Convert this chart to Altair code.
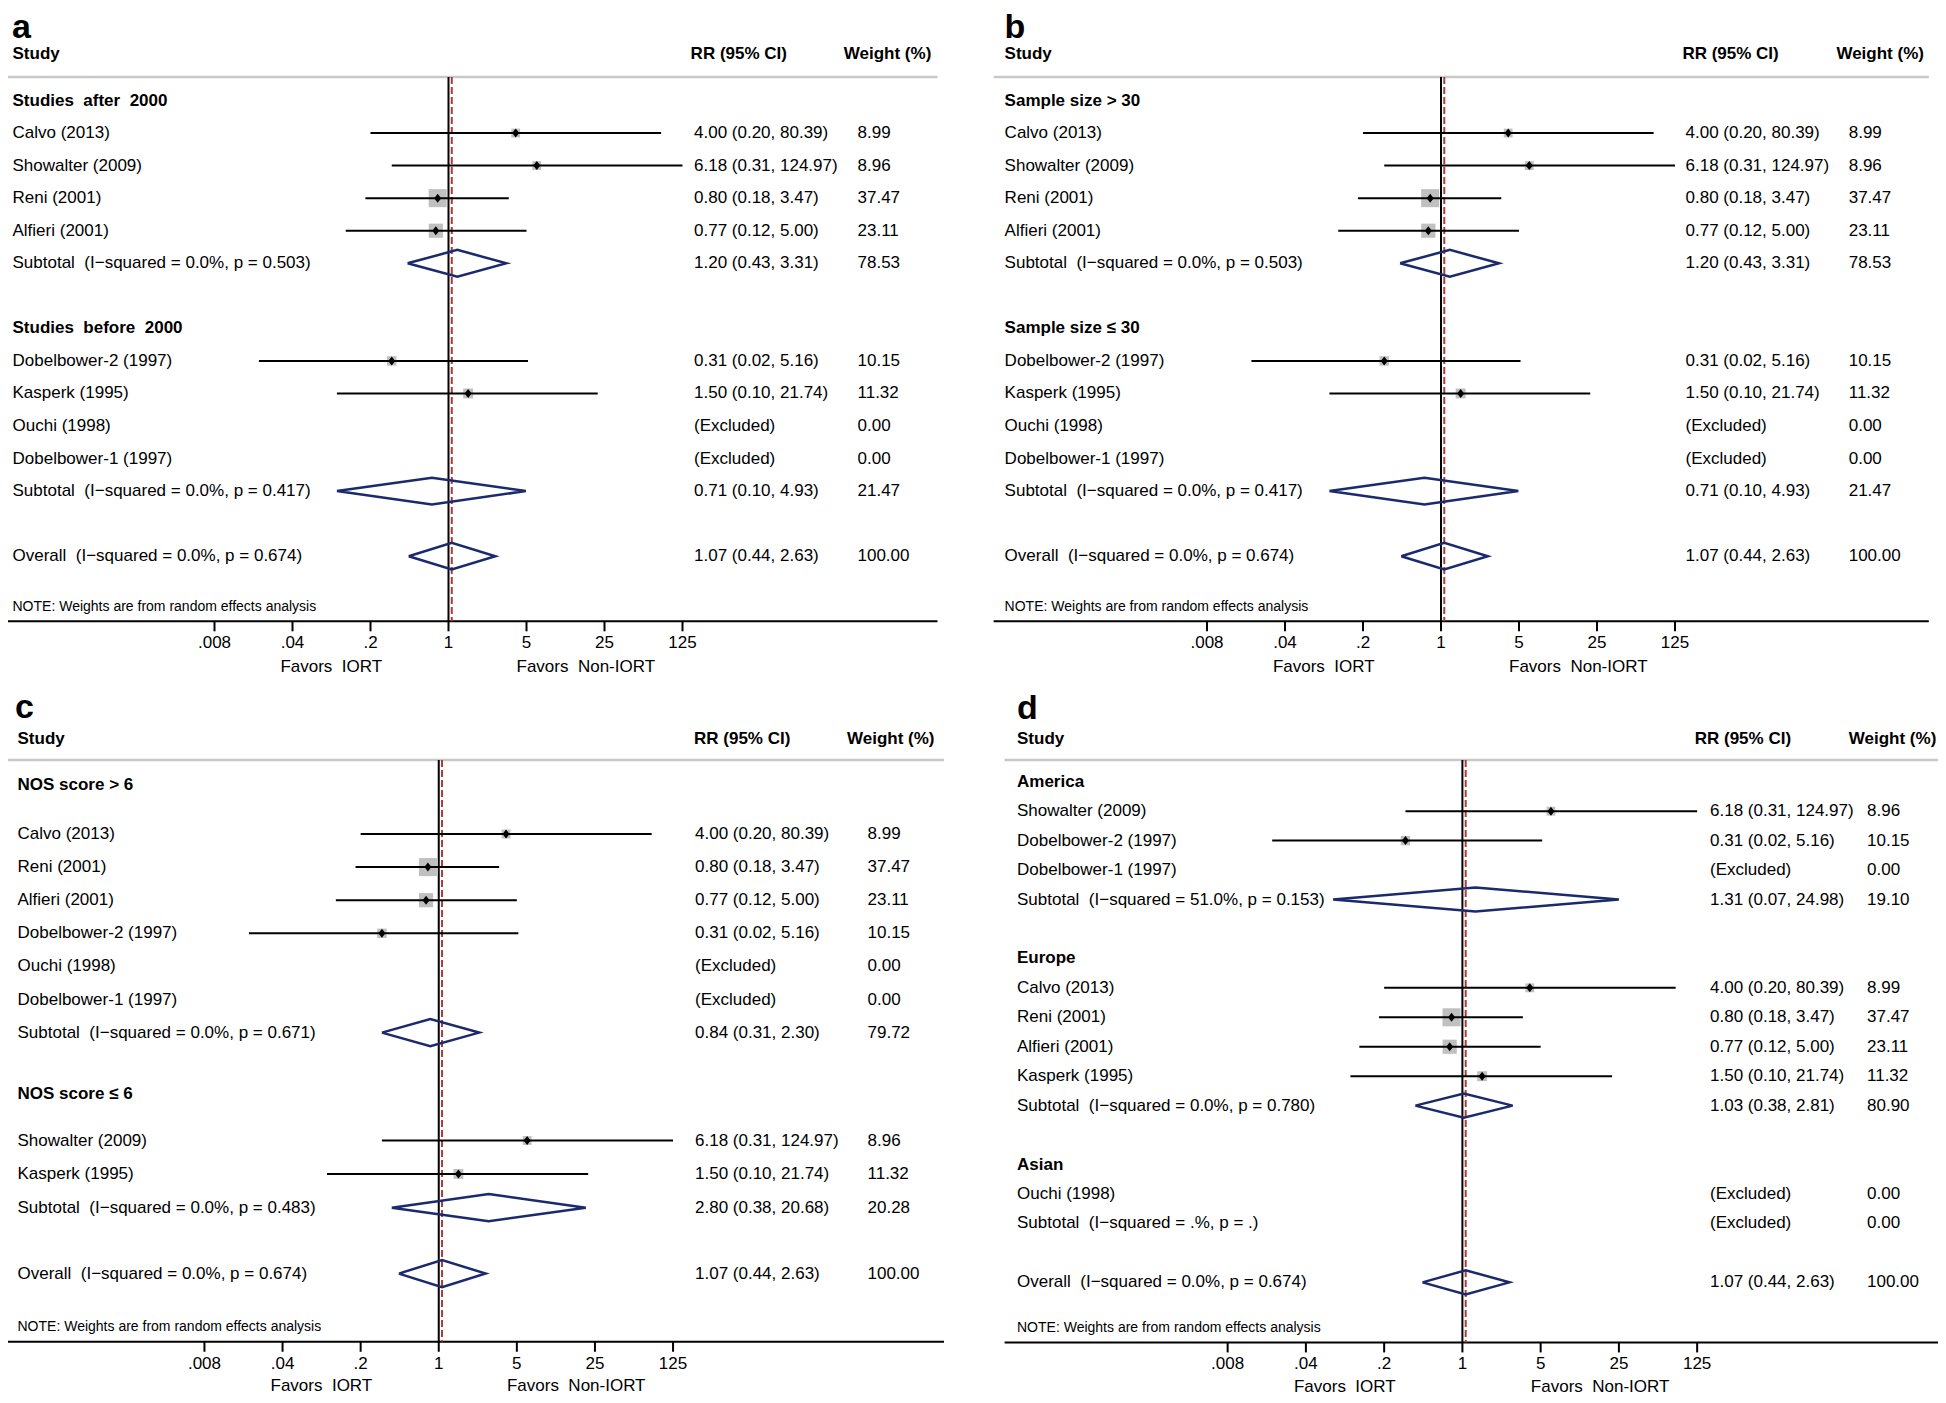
import altair as alt
import pandas as pd

# ---------------- style / canvas ----------------
FONT = "Liberation Sans, Arial, Helvetica, sans-serif"
FS = 17
W, H = 1930, 1387
M = 8  # page margin
NAVY = "#1a2a6c"
RED = "#b03a3a"
GREY = "#c0c0c0"
DIAMOND_PATH = "M-0.78,0L0,-1L0.78,0L0,1Z"

# ---------------- shared texts / ticks ----------------
TICK_VALUES = [0.008, 0.04, 0.2, 1, 5, 25, 125]
TICK_LABELS = [".008", ".04", ".2", "1", "5", "25", "125"]
NULL_RR = 1.0
POOLED_RR = 1.07
FAVORS_TEXT = ["Favors\u00a0 IORT", "Favors\u00a0 Non-IORT"]
FAVORS_AT = [0.089, 17.0]
NOTE = "NOTE: Weights are from random effects analysis"
HEADERS = ["Study", "RR (95% CI)", "Weight (%)"]

# ---------------- panel a ----------------
A_LABELS = ["Studies\u00a0 after\u00a0 2000", "Calvo (2013)", "Showalter (2009)", "Reni (2001)",
            "Alfieri (2001)", "Subtotal\u00a0 (I\u2212squared = 0.0%, p = 0.503)",
            "Studies\u00a0 before\u00a0 2000", "Dobelbower-2 (1997)", "Kasperk (1995)", "Ouchi (1998)",
            "Dobelbower-1 (1997)", "Subtotal\u00a0 (I\u2212squared = 0.0%, p = 0.417)",
            "Overall\u00a0 (I\u2212squared = 0.0%, p = 0.674)"]
A_KIND = ["group", "study", "study", "study", "study", "sum", "group", "study", "study", "excl", "excl", "sum", "sum"]
A_ROW = [1, 2, 3, 4, 5, 6, 8, 9, 10, 11, 12, 13, 15]
A_RR = [None, 4.00, 6.18, 0.80, 0.77, 1.20, None, 0.31, 1.50, None, None, 0.71, 1.07]
A_LO = [None, 0.20, 0.31, 0.18, 0.12, 0.43, None, 0.02, 0.10, None, None, 0.10, 0.44]
A_HI = [None, 80.39, 124.97, 3.47, 5.00, 3.31, None, 5.16, 21.74, None, None, 4.93, 2.63]
A_WT = [None, 8.99, 8.96, 37.47, 23.11, 78.53, None, 10.15, 11.32, 0.00, 0.00, 21.47, 100.00]

# ---------------- panel b ----------------
B_LABELS = ["Sample size > 30"] + A_LABELS[1:6] + ["Sample size \u2264 30"] + A_LABELS[7:]
B_KIND = list(A_KIND)
B_ROW = list(A_ROW)
B_RR = list(A_RR)
B_LO = list(A_LO)
B_HI = list(A_HI)
B_WT = list(A_WT)

# ---------------- panel c ----------------
C_LABELS = ["NOS score > 6", "Calvo (2013)", "Reni (2001)", "Alfieri (2001)", "Dobelbower-2 (1997)",
            "Ouchi (1998)", "Dobelbower-1 (1997)", "Subtotal\u00a0 (I\u2212squared = 0.0%, p = 0.671)",
            "NOS score \u2264 6", "Showalter (2009)", "Kasperk (1995)",
            "Subtotal\u00a0 (I\u2212squared = 0.0%, p = 0.483)",
            "Overall\u00a0 (I\u2212squared = 0.0%, p = 0.674)"]
C_KIND = ["group", "study", "study", "study", "study", "excl", "excl", "sum", "group", "study", "study", "sum", "sum"]
C_ROW = [0.52, 2, 3, 4, 5, 6, 7, 8, 9.87, 11.26, 12.27, 13.29, 15.28]
C_RR = [None, 4.00, 0.80, 0.77, 0.31, None, None, 0.84, None, 6.18, 1.50, 2.80, 1.07]
C_LO = [None, 0.20, 0.18, 0.12, 0.02, None, None, 0.31, None, 0.31, 0.10, 0.38, 0.44]
C_HI = [None, 80.39, 3.47, 5.00, 5.16, None, None, 2.30, None, 124.97, 21.74, 20.68, 2.63]
C_WT = [None, 8.99, 37.47, 23.11, 10.15, 0.00, 0.00, 79.72, None, 8.96, 11.32, 20.28, 100.00]

# ---------------- panel d ----------------
D_LABELS = ["America", "Showalter (2009)", "Dobelbower-2 (1997)", "Dobelbower-1 (1997)",
            "Subtotal\u00a0 (I\u2212squared = 51.0%, p = 0.153)", "Europe", "Calvo (2013)", "Reni (2001)",
            "Alfieri (2001)", "Kasperk (1995)", "Subtotal\u00a0 (I\u2212squared = 0.0%, p = 0.780)",
            "Asian", "Ouchi (1998)", "Subtotal\u00a0 (I\u2212squared = .%, p = .)",
            "Overall\u00a0 (I\u2212squared = 0.0%, p = 0.674)"]
D_KIND = ["group", "study", "study", "excl", "sum", "group", "study", "study", "study", "study", "sum",
          "group", "excl", "excl", "sum"]
D_ROW = [1, 2, 3, 4, 5, 7, 8, 9, 10, 11, 12, 14, 15, 16, 18]
D_RR = [None, 6.18, 0.31, None, 1.31, None, 4.00, 0.80, 0.77, 1.50, 1.03, None, None, None, 1.07]
D_LO = [None, 0.31, 0.02, None, 0.07, None, 0.20, 0.18, 0.12, 0.10, 0.38, None, None, None, 0.44]
D_HI = [None, 124.97, 5.16, None, 24.98, None, 80.39, 3.47, 5.00, 21.74, 2.81, None, None, None, 2.63]
D_WT = [None, 8.96, 10.15, 0.00, 19.10, None, 8.99, 37.47, 23.11, 11.32, 80.90, None, 0.00, 0.00, 100.00]

# ---------------- layout (pixel positions in the reference page) ----------------
LAYOUT = {
    "a": dict(letter="a", letter_x=12, letter_y=38, head_r=-0.42, study_x=12.5, rrh_x=690.6,
              wth_x=843.8, rr_x=694, wt_x=857.5, line_r=0.278, axis_r=17, axis_x=(0, 937.5),
              one_x=448.5, step=78.0, y1=100.5, dy=32.55, note_r=16.55, fav_r=18.4),
    "b": dict(letter="b", letter_x=1004.6, letter_y=38, head_r=-0.42, study_x=1004.6, rrh_x=1682.4,
              wth_x=1836.4, rr_x=1685.5, wt_x=1848.7, line_r=0.278, axis_r=17, axis_x=(993.6, 1928.8),
              one_x=1441.0, step=78.0, y1=100.5, dy=32.55, note_r=16.55, fav_r=18.4),
    "c": dict(letter="c", letter_x=15, letter_y=718, head_r=-0.87, study_x=17.5, rrh_x=694,
              wth_x=847, rr_x=695, wt_x=867.5, line_r=-0.236, axis_r=17.34, axis_x=(6, 944),
              one_x=438.75, step=78.1, y1=800.9, dy=33.1, note_r=16.88, fav_r=18.69),
    "d": dict(letter="d", letter_x=1017, letter_y=718.5, head_r=-0.45, study_x=1017, rrh_x=1694.7,
              wth_x=1848.8, rr_x=1710, wt_x=1867, line_r=0.263, axis_r=20.04, axis_x=(1004.6, 1944),
              one_x=1462.4, step=78.25, y1=781.7, dy=29.45, note_r=19.56, fav_r=21.54),
}
DIAMOND_HALF = 0.41   # half height of pooled diamonds, in rows
TICK_LEN = 10         # px
TICK_LABEL_GAP = 22   # px below the axis line (label centre)


def yref(P, r):
    return P["y1"] + (r - 1) * P["dy"]


def build_panel(P, labels, kinds, rows, rr, lo, hi, wt):
    df = pd.DataFrame(dict(label=labels, kind=kinds, row=rows, rr=rr, lo=lo, hi=hi, wt=wt))
    rr_txt, wt_txt = [], []
    for k, e, l, h, w in zip(df.kind, df.rr, df.lo, df.hi, df.wt):
        if k == "group":
            rr_txt.append("")
            wt_txt.append("")
        else:
            rr_txt.append("(Excluded)" if pd.isna(e) else f"{e:.2f} ({l:.2f}, {h:.2f})")
            wt_txt.append(f"{w:.2f}")
    df["rr_txt"] = rr_txt
    df["wt_txt"] = wt_txt

    x0, x1 = P["axis_x"]
    dom = [5 ** ((x0 - P["one_x"]) / P["step"]), 5 ** ((x1 - P["one_x"]) / P["step"])]
    xs = alt.Scale(type="log", base=5, domain=dom, range=[x0 - M, x1 - M], nice=False)
    ys = alt.Scale(type="linear", domain=[P["line_r"], P["axis_r"]],
                   range=[yref(P, P["line_r"]) - M, yref(P, P["axis_r"]) - M], nice=False, zero=False)

    def Y(field):
        return alt.Y(field, type="quantitative", scale=ys, axis=None)

    def X(field):
        return alt.X(field, type="quantitative", scale=xs, axis=None)

    def label(text, x_px, row, size=FS, weight="normal"):
        d = pd.DataFrame({"t": [text], "r": [row]})
        return alt.Chart(d).mark_text(font=FONT, fontSize=size, fontWeight=weight, color="black",
                                      align="left", baseline="middle").encode(
            x=alt.value(x_px - M), y=Y("r"), text="t:N")

    layers = []
    # grey header separator and x-axis baseline
    hl = pd.DataFrame({"r": [P["line_r"]]})
    layers.append(alt.Chart(hl).mark_rule(color="#c8c8c8", strokeWidth=2.5).encode(
        x=alt.value(x0 - M), x2=alt.value(x1 - M), y=Y("r")))
    al = pd.DataFrame({"r": [P["axis_r"]]})
    layers.append(alt.Chart(al).mark_rule(color="black", strokeWidth=2).encode(
        x=alt.value(x0 - M), x2=alt.value(x1 - M), y=Y("r")))
    # ticks and tick labels through the x scale
    tk = pd.DataFrame({"v": TICK_VALUES, "lab": TICK_LABELS,
                       "y0": [P["axis_r"]] * len(TICK_VALUES),
                       "y1": [P["axis_r"] + TICK_LEN / P["dy"]] * len(TICK_VALUES),
                       "yl": [P["axis_r"] + TICK_LABEL_GAP / P["dy"]] * len(TICK_VALUES)})
    layers.append(alt.Chart(tk).mark_rule(color="black", strokeWidth=2).encode(
        x=X("v"), y=Y("y0"), y2="y1:Q"))
    layers.append(alt.Chart(tk).mark_text(font=FONT, fontSize=FS, color="black", align="center",
                                          baseline="middle").encode(x=X("v"), y=Y("yl"), text="lab:N"))
    # null line, pooled dashed line
    nl = pd.DataFrame({"x": [NULL_RR], "y0": [P["line_r"]], "y1": [P["axis_r"]]})
    layers.append(alt.Chart(nl).mark_rule(color="black", strokeWidth=2).encode(
        x=X("x"), y=Y("y0"), y2="y1:Q"))
    pl = pd.DataFrame({"x": [POOLED_RR], "y0": [P["line_r"]], "y1": [P["axis_r"]]})
    layers.append(alt.Chart(pl).mark_rule(color=RED, strokeWidth=2, strokeDash=[7, 3]).encode(
        x=X("x"), y=Y("y0"), y2="y1:Q"))

    st = df[df.kind == "study"]
    layers.append(alt.Chart(st).mark_point(shape="square", filled=True, color=GREY, opacity=1,
                                           strokeWidth=0).encode(
        x=X("rr"), y=Y("row"),
        size=alt.Size("wt:Q", scale=alt.Scale(domain=[0, 100], range=[0, 870]), legend=None)))
    layers.append(alt.Chart(st).mark_rule(color="black", strokeWidth=2).encode(
        x=X("lo"), x2="hi:Q", y=Y("row")))
    layers.append(alt.Chart(st).mark_point(shape=DIAMOND_PATH, filled=True, color="black", size=81,
                                           opacity=1, strokeWidth=0).encode(x=X("rr"), y=Y("row")))

    sm = df[(df.kind == "sum") & df.rr.notna()]
    drows = []
    for i, (r, e, l, h) in enumerate(zip(sm.row, sm.rr, sm.lo, sm.hi)):
        pts = [(l, r), (e, r - DIAMOND_HALF), (h, r), (e, r + DIAMOND_HALF), (l, r)]
        for j, (px, py) in enumerate(pts):
            drows.append({"id": i, "ord": j, "x": px, "y": py})
    ddf = pd.DataFrame(drows)
    layers.append(alt.Chart(ddf).mark_line(color=NAVY, strokeWidth=2.5, strokeJoin="miter").encode(
        x=X("x"), y=Y("y"), detail="id:N", order="ord:Q"))

    txt = dict(font=FONT, fontSize=FS, color="black", align="left", baseline="middle")
    body = df[df.kind != "group"]
    grp = df[df.kind == "group"]
    layers.append(alt.Chart(body).mark_text(**txt).encode(
        x=alt.value(P["study_x"] - M), y=Y("row"), text="label:N"))
    layers.append(alt.Chart(grp).mark_text(fontWeight="bold", **txt).encode(
        x=alt.value(P["study_x"] - M), y=Y("row"), text="label:N"))
    layers.append(alt.Chart(body).mark_text(**txt).encode(
        x=alt.value(P["rr_x"] - M), y=Y("row"), text="rr_txt:N"))
    layers.append(alt.Chart(body).mark_text(**txt).encode(
        x=alt.value(P["wt_x"] - M), y=Y("row"), text="wt_txt:N"))

    layers.append(label(HEADERS[0], P["study_x"], P["head_r"], weight="bold"))
    layers.append(label(HEADERS[1], P["rrh_x"], P["head_r"], weight="bold"))
    layers.append(label(HEADERS[2], P["wth_x"], P["head_r"], weight="bold"))
    letter_r = (P["letter_y"] - P["y1"]) / P["dy"] + 1
    ld = pd.DataFrame({"t": [P["letter"]], "r": [letter_r]})
    layers.append(alt.Chart(ld).mark_text(font=FONT, fontSize=34, fontWeight="bold", color="black",
                                          align="left", baseline="alphabetic").encode(
        x=alt.value(P["letter_x"] - M), y=Y("r"), text="t:N"))
    layers.append(label(NOTE, P["study_x"], P["note_r"], size=14))

    fv = pd.DataFrame({"t": FAVORS_TEXT, "x": FAVORS_AT, "r": [P["fav_r"]] * 2})
    layers.append(alt.Chart(fv).mark_text(font=FONT, fontSize=FS, color="black", align="center",
                                          baseline="middle").encode(x=X("x"), y=Y("r"), text="t:N"))
    return alt.layer(*layers)


pa = build_panel(LAYOUT["a"], A_LABELS, A_KIND, A_ROW, A_RR, A_LO, A_HI, A_WT)
pb = build_panel(LAYOUT["b"], B_LABELS, B_KIND, B_ROW, B_RR, B_LO, B_HI, B_WT)
pc = build_panel(LAYOUT["c"], C_LABELS, C_KIND, C_ROW, C_RR, C_LO, C_HI, C_WT)
pd_ = build_panel(LAYOUT["d"], D_LABELS, D_KIND, D_ROW, D_RR, D_LO, D_HI, D_WT)

chart = alt.layer(pa, pb, pc, pd_).resolve_scale(x="independent", y="independent").properties(
    width=W, height=H, padding=0, autosize=alt.AutoSizeParams(type="none"), background="white"
).configure_view(stroke=None)

chart.save("out.html", embed_options={"renderer": "svg", "actions": False})
